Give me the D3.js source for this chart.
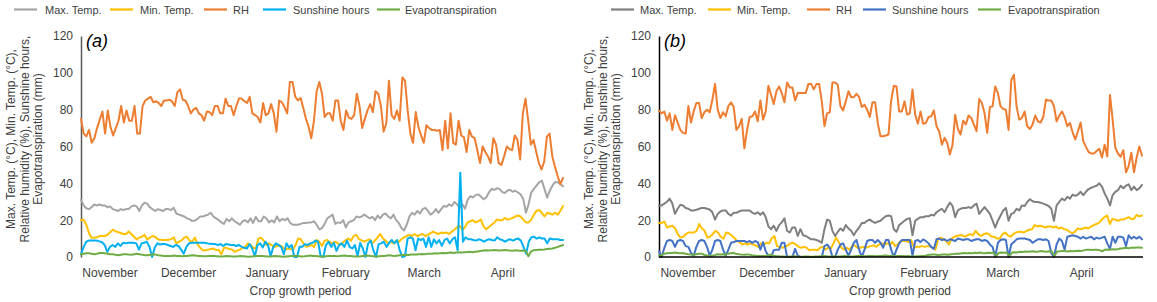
<!DOCTYPE html>
<html><head><meta charset="utf-8">
<script src="https://cdn.jsdelivr.net/npm/d3@7"></script>
<style>
body{margin:0;background:#fff}
svg{display:block}
text{font-family:"Liberation Sans",Arial,sans-serif}
</style>
</head><body>
<svg id="c" width="1157" height="302"></svg>
<script>
// ---------- DATA ----------
const months = ["November","December","January","February","March","April"];
const seriesNames = ["Max. Temp.","Min. Temp.","RH","Sunshine hours","Evapotranspiration"];
const yTicks = [0,20,40,60,80,100,120];
const panelLabels = ["(a)","(b)"];
const xTitle = "Crop growth period";
const yTitleLines = ["Max. Temp. (°C), Min. Temp. (°C),","Relative humidity (%), Sunshine hours,","Evapotranspiration (mm)"];

// Panel (a)
const maxTempA = [31,28,26.5,26,27,28.5,28,28.5,28,28,
27,27.5,26,25.5,25,26,25.5,26,26,27.5,
28,27.5,25,28,29.5,29,27,26,25,26,
25.5,25,26,26,25.5,26.7,23.6,23,22.5,22,
21,20.5,19.5,19.8,20.7,22,22,22.5,23,24,
22,21,20,18.8,18,
20.7,19.4,21,19.4,18.5,17.5,19.4,20,18.8,21,
18.5,21.8,19.4,19.4,22,21,18.8,20,18.8,22,
19.4,20.7,20,21,18.5,17.5,17.5,17.5,18,18.5,
18.5,18.8,18.8,19.4,17.5,15,15.7,18,21,22,
23,18,18.8,18.5,20,16,18.8,19.4,20,22,
21.5,22,23,22,21,21.8,20,22.5,21,23,
23.6,22,21,23,20,18.5,15.7,14.4,17.5,22,
24,23,25,23.6,26,26.7,25,23,24,26,
24,26,27.7,27.3,28.6,27.7,29.9,28.6,26.7,28.6,
26.2,31,33,32.3,33.6,34,32.8,31.4,32.3,35,
37,36.5,37.3,37,35.4,34.7,36,36.5,35.4,36,
35,34,31.4,24,28.6,35,37,38.7,40.6,41.5,
37,32.3,36,38.7,40.6,40.6,39.7,38.4];

const minTempA = [20,20.3,17.5,13,10.5,10.5,10.7,11.4,11.4,11.4,
12,13.5,14.8,14,13.5,13,12.5,12.5,13.8,12.5,
11,9.6,10.5,11,12,9.5,10.5,11.4,11,9.6,
9.4,9.2,9.2,9.4,9.6,10.7,7.4,8.3,9,10.5,
11,8.9,8.3,10.5,7,5,3.7,3.7,4,4.3,
4.6,3.7,4,1.5,5,5,4.3,4,2.8,3.5,
4,5,5.5,7.4,6.5,5,4.6,10,10.5,8.9,
6.5,7.4,6.5,5.5,6,6.5,5.5,4,4.6,4.3,
4,6.5,10,9.6,7.4,5.5,6,6.5,5.5,9.2,
8.3,6,8.9,9.2,8,7.4,8.3,7.4,6.5,8,
9.2,10,8.9,11.5,12,
9.6,9,8.3,9,9.6,7.4,8.9,10.7,12.5,10,
8.9,7.4,8.3,7.4,8.9,8.3,9.6,10.7,11.4,12,
11.4,12.5,11.4,12,12.5,11.4,12,13,13.8,13,
12.5,13.3,13,13.3,12.5,13.8,14.8,16.2,17,14.8,
16.2,18.8,19.4,20,18.8,19.4,20.3,16.6,15.1,16.2,
17.5,18.5,20.3,20,20,21.2,20.3,20.7,21.2,22,
22.5,22,20.3,18.8,18.8,20.3,23,25,25.5,24,
22,24,23.6,23,24,23,25,27.7];

const rhA = [75,67,65.5,69,62,64.5,70,74.6,79,67,
79.6,70.7,66,70,74,82,73,79.6,74,74,
82,67,67,82,85,86,87,84,84.6,83.6,
82,85,85,85.4,84.5,82,89.5,91,85.4,85,
82,78,80,81,78,77,74,79,78.7,77,
82,82,78,78,86,82,82,77,82,86,
86,84.6,83.6,87,78,77,76,73,83.6,77,
78,83,78,68,85,84,81.4,78,95,95,
87,85,86.4,81,75,70.7,64.5,74,90,95,
88.6,76,78,78,74,85,85,74,69,79.6,
75.7,75,77,
88.6,82,70,75,79.6,83,78.7,90,88.6,82,
68,72.5,95.7,77,75,79.6,74,97.5,95.7,79.6,
67,62,78.7,70.7,66,62,71.6,70,69,69,
68.6,69,58,74,59,78,62,61,74,66,
65,57,69,65.4,64.5,58,51,60,57,54.6,
51,64.5,61,51,50,54.6,60,58.6,58,66,
63.6,53,78,86,74,61,63.6,57,51,47.5,
52,65.4,67,54.6,49,44,39.5,43];

const sunA = [1.5,5.5,8.3,8.9,8.9,8.9,8.9,8.5,8,6.5,
2.8,5.5,6.5,5.5,7.4,6,7.7,7.4,7.7,7.7,
7.7,7.4,4,7.4,7.7,8.3,5.5,0,5.2,7.4,
6.8,7,7,6.5,6,5.5,6.5,6,4,1.8,
5.5,7.4,7.7,7.7,7.7,7.7,7.7,7.7,7.4,7.2,
7,7,6.5,7,6,7,6.8,6.5,6.5,6,
6.5,5.5,5,4.6,7,4.6,0.4,6.5,7.4,5.2,
8.3,6.5,0.4,5.5,7.4,6.5,5.5,1.5,7.4,5.2,
6.5,0,0,5.5,5.5,7,6.5,7.4,7.7,8.9,
8.3,0.4,0,6.5,8.3,5.5,7.7,3.3,6.5,7.4,
5.5,8.9,5.5,4.6,6.5,
0.4,7.7,4.6,0,7.4,8.9,3.7,0,7,7.4,
8.3,5.5,7.7,9.2,7.4,9.2,3.7,0,0.4,10,
10.7,10,3.7,10,9.2,10,5.5,10.7,5.5,9.6,
7.4,9.2,6,9.2,10,7.4,9.6,10.7,3.7,45.8,
8.3,10.7,9.6,9.6,9.2,8.9,9.6,9.2,8.3,9.2,
9.6,9.2,8.9,10.7,9.6,9.2,8.3,9.2,9.6,8.9,
9.6,10,8.9,5.5,1.8,8.3,10.7,11,10,10.7,
10,10,7.4,10,9.6,9.6,9.6,9.2,9.2];

const evapA = [1.5,1.8,2,2,1.8,1.5,1.8,2.2,2.2,2,
1.8,1.5,1.5,1.2,1,1.2,1.5,1.5,1.3,1.2,
1.5,1.8,1.5,1.2,1,1,1.2,1.5,1.3,1,
0.8,0.6,0.5,0.5,0.6,0.8,0.6,0.5,0.4,0.5,
0.6,0.8,1,0.8,0.6,0.5,0.4,0.4,0.5,0.6,
0.5,0.4,0.3,0.3,0.4,0.5,0.4,0.3,0.3,0.4,
0.5,0.4,0.3,0.2,0.3,0.4,0.5,0.6,0.5,0.4,
0.3,0.3,0.4,0.5,0.4,0.3,0.2,0.3,0.4,0.5,
0.6,0.5,0.4,0.3,0.4,0.6,0.8,0.6,0.5,0.4,
0.3,0.3,0.4,0.5,0.6,0.5,0.4,0.5,0.7,0.8,
0.6,0.5,0.4,0.3,0.3,0.4,0.6,0.8,0.7,0.5,
0.4,0.3,0.4,0.5,0.6,0.8,0.9,0.7,0.6,0.8,
1,1.1,1.2,1.1,1.3,1.4,1.3,1.5,1.6,1.5,1.7,1.8,
1.8,2,1.9,2.1,2.2,2,2.3,2.4,2.2,2.5,2.6,2.4,2.6,2.7,2.8,2.6,2.8,3,
3.2,3.5,3.7,3.5,3.6,3.8,3.7,3.5,3.6,3.8,3.7,3.5,3.4,3.6,3.5,3.4,3.5,3.3,
0.4,
3,3.7,3.8,3.9,4,4.1,4.3,4.5,4.6,5,5.5,6,6.5];

// Panel (b)
const maxTempB = [28,28,29,30,31.7,29,23.4,26.2,28.4,28,
26.6,26.2,25.3,25.3,25.6,26.2,26.6,26.6,26.2,25.8,
24.3,20.3,23.4,24.7,25.3,25.3,23.4,22.5,24,24,
24.7,25.3,25.3,25.3,25.3,24,23.4,24.3,22.9,24.3,
21.6,16.6,15.1,17,14.2,17.3,18.8,21,14.2,13.3,
16,16,11.4,15.1,11.8,11.4,10.5,9.6,9.6,9.2,
8.7,7.7,15.1,20.3,19.7,14.2,11.4,13.7,15.5,14.2,
17.3,15.5,14.2,11.8,14.2,16,18.5,18.5,19.7,20.3,
19.2,18.5,19.2,19.7,21,22.1,22.5,22.1,15.1,13.7,
17.3,18.5,19.7,20.7,21,
11.8,19.7,20.7,21.6,21.6,22.1,22.1,22.9,22.5,
24.3,25.3,26.2,24.3,27.1,29.5,27.7,21.6,25.3,26.2,
26.6,26.6,27.1,26.6,28,29,23.4,25.3,27.1,25.3,
23.4,19.7,16,19.7,22.5,25.3,26.6,19.7,23.4,24,
26.2,25.3,28,27.7,29.9,31.4,30.3,29.9,29.9,29.5,
29,28.4,27.7,26.2,19.7,28,29.9,31.7,30.8,32.7,
31.7,33.9,33.2,33.9,35.4,33.6,35.4,36.9,37.6,38.2,
38.7,40,38.2,34.5,31.7,28,33.6,35.4,36.3,38.7,
37.3,38.7,39.5,36.3,38.2,36.3,37.3,39.1];

const minTempB = [18.5,18.5,19.2,16,16.6,17,15.5,12.4,10.5,11,
12.4,13.3,13.3,13.3,14.2,17.9,15.5,14.2,10.5,11,
12.4,14.2,13.3,11,10,13.3,12.9,11.8,10.5,8.7,
8.1,6.8,7.4,6.8,7.4,6.8,6.3,5.5,7.4,6.8,
7.7,7.4,10,11.4,5.9,5.5,5,5.5,6.3,7.4,
7.7,6.8,5.5,5,5.5,5,3.7,4,4,3.7,
5,5.5,4,5,4.4,7.4,10.5,8.1,5,4,
5,4,5.9,6.3,5,5,5.5,5,5.5,5.9,
6.3,5.5,6.8,7.4,6.8,7.4,6.8,8.1,5.9,6.8,
8.7,8.7,8.7,8.1,9.2,
5,5.5,5.5,5.9,5.5,5.9,5.9,5,4,
9.6,10.5,9.6,8.7,6.8,10,11,11.4,11.8,11.8,
11,11.8,12.4,11.8,14.2,12.4,11.4,12.4,12.9,12.4,
11,11,10,10,12.4,13.3,11.8,11,12.4,13.3,
13.7,13.7,13.3,14.2,14.8,15.1,17.3,16.6,17,16.6,
16,16.6,16.6,16,16.6,15.5,16,15.1,14.8,13.7,
12.9,13.7,15.5,15.1,15.5,16,15.5,16.6,17.3,17.9,
18.5,20.3,21.6,22.5,17.9,20.7,20.3,19.7,20.3,20.3,
21,21.6,20.7,20.7,22.9,22.1,22.5];

const rhB = [79.5,78,79,74,78,69,77,73,69,67.4,
67,82,73,79,83.6,83.6,75.5,78.6,80,78.6,
85.4,94,80,75.5,78.6,76.4,82,84,81.4,69,
71,75,59,69,76,76.4,79,73.7,85,74.6,
79,93,88,83,90,92.6,89,84,94.8,92,
92,85,89,89,89,89,94,94,91,94,
94,84.5,71,78,78.6,94.8,94.8,93.5,81.8,79.6,
84.5,90,86.8,86.8,88.6,86.8,81.4,82.7,80,76,
84,84,72.4,65.6,65.6,66,66.5,85,93,92.6,
79,79,84.5,77.3,78,
91,77.3,72.4,79,72.4,72.8,76,76.4,79.6,
71,68.3,61,64.7,62,55.7,61,77.3,69.5,66.5,
74,72,76.8,75.5,72,68.3,85.8,83.6,78,67.4,
81.4,81.8,92.6,89,81.8,80.4,80,69,96,99,
81.8,74.6,75.5,79,71,69.5,72,76.8,73.7,73,
76,85.4,85,85,82,73.7,76.8,79,76,71,
72.8,67.7,63.8,68.3,73,62.9,59.8,57,56.2,56.2,
57.5,58.7,54,61,54.6,88,74.6,59.3,56.2,54.4,
58,46,49.4,56.6,46,54,60,55];

const sunB = [3.1,0,5,8.7,9.2,8.7,5.5,8.7,9.2,8.7,
5.9,5.5,2.2,0.7,5.5,8.7,9.2,8.7,5.5,0.7,
4,8.7,9.2,8.7,4,0.7,4,7.7,8.1,8.7,
8.7,8.7,8.7,8.1,8.7,7.7,8.7,8.1,4,8.1,
3.1,0.7,0,3.7,4,4,7.7,7.7,0,0,
0,4.4,0.7,0,0,0,0,0,0,0,
0,0,5.9,6.8,5,0,0,4,6.8,7.4,
4,0.7,4,7.7,9.2,4,0,4,8.7,9.2,
9.2,7.7,9.2,7.7,5,9.2,9.2,4,0,4,
7.4,9.2,9.2,9.2,9.2,
0.7,8.7,9.2,8.1,9.6,8.7,7.4,5.5,4.4,
9.6,10,9.2,9.6,8.7,9.6,9.2,8.7,10,9.6,
9.2,9.6,9.6,8.7,9.2,9.6,9.6,8.7,9.2,8.7,
6.8,5.5,0,7.7,9.2,9.6,9.2,0,6.8,8.1,
9.6,10,10,10,9.6,9.2,7.7,8.7,9.6,9.6,
9.2,9.6,8.7,2.2,0,6.8,10,8.7,4,11,
11.4,11.8,11.4,11,10,11,10,10.5,11,9.6,
10.5,10,10.5,11,7.4,4.4,11,7.7,11,11,
10.5,5.9,11.8,10,11,10,11,9.6];

const evapB = [0.7,1,1.8,2,2.2,2.2,2.4,2.2,2,2.2,
1.8,1.5,1.3,1.2,1.5,1.8,1.8,1.2,0.8,0.7,
0.7,1,1.5,1.3,1.5,1.2,1.8,2,2.2,1.8,
1.5,1.3,1.2,1.3,1.3,1,0.8,0.6,0.5,0.6,
0.5,0.8,1.2,0.8,0.5,0.4,0.3,0.3,0.2,0.3,
0.3,0.4,0.3,0.2,0.2,0.3,0.3,0.2,0.2,0.3,
0.3,0.4,0.5,0.4,0.3,0.3,0.4,0.3,0.3,0.4,
0.5,0.4,0.3,0.3,0.4,0.5,0.6,0.5,0.4,0.5,
0.6,0.5,0.4,0.5,0.6,0.8,0.7,0.6,0.5,0.4,
0.5,0.6,0.5,0.4,0.5,
0.3,0.3,0.4,0.4,0.5,0.5,1,1.2,1.3,1.3,
1.1,1.2,1.4,1.3,1.2,1.5,1.6,1.8,1.8,2,
2.2,2.1,2.2,2,2.3,2.2,2.4,2.1,2,2.3,
2.2,2.4,0.5,2.2,2.5,2.3,2.4,0.5,2.4,2.6,
2.5,2.8,2.7,3,2.8,3,3.1,2.9,3,3.2,
3,2.9,3.1,3,0.6,3,3.1,3.3,3.2,3,
3.2,3.1,3.3,3.4,3.2,3.6,3.9,4,3.8,4,
3.9,3.7,3.1,4,4.1,4,4.2,4.1,4.3,4.6,
4.8,5,4.8,5.1,5,5.2,5.1,5];

const colorsA = ["#A5A5A5","#FFC000","#ED7D31","#00B0F0","#70AD47"];
const colorsB = ["#7F7F7F","#FFC000","#ED7D31","#4472C4","#70AD47"];

// ---------- DRAW ----------
const svg = d3.select("#c");
const nDays = 182;
const y = d3.scaleLinear().domain([0,120]).range([257,36]);

const panels = [
  {x0:81, x1:563, series:[maxTempA,minTempA,rhA,sunA,evapA], colors:colorsA, axisColor:"#595959", xAxis:false,
   label:panelLabels[0], titleX:[10.5,24.5,38], titleCY:139, xTitleX:300.5,
   legendLine:[14,110,204,263,377], legendText:[45,140,233,293,405]},
  {x0:659, x1:1142, series:[maxTempB,minTempB,rhB,sunB,evapB], colors:colorsB, axisColor:"#000", xAxis:true,
   label:panelLabels[1], titleX:[588.5,602.5,616], titleCY:139, xTitleX:900,
   legendLine:[611,708,807,863,978], legendText:[640,737,836,892,1008]}
];

panels.forEach(p => {
  const x = d3.scaleLinear().domain([0, nDays-1]).range([p.x0, p.x1]);
  const g = svg.append("g");

  // legend
  seriesNames.forEach((name,k) => {
    g.append("line").attr("x1",p.legendLine[k]).attr("x2",p.legendLine[k]+23)
      .attr("y1",9.5).attr("y2",9.5).attr("stroke",p.colors[k]).attr("stroke-width",2.2);
    g.append("text").attr("x",p.legendText[k]).attr("y",13.5)
      .attr("font-size",11).attr("fill","#404040").text(name);
  });

  // y axis
  const yAxis = d3.axisLeft(y).tickValues(yTicks).tickSize(0).tickSizeOuter(0).tickPadding(8);
  const ga = g.append("g").attr("transform",`translate(${p.x0},0)`).call(yAxis);
  ga.select(".domain").attr("stroke",p.axisColor).attr("stroke-width",1.5);
  ga.selectAll("text").attr("font-size",12).attr("fill","#404040")
    .attr("font-family",'"Liberation Sans",Arial,sans-serif');

  // series lines
  p.series.forEach((vals,k) => {
    const line = d3.line()
      .x((d,i) => x(i*(nDays-1)/(vals.length-1)))
      .y(d => y(d));
    g.append("path").attr("d",line(vals)).attr("fill","none")
      .attr("stroke",p.colors[k]).attr("stroke-width",2)
      .attr("stroke-linejoin","round").attr("stroke-linecap","round");
  });

  // x axis line (panel b)
  if (p.xAxis) {
    g.append("line").attr("x1",p.x0).attr("x2",p.x1+1).attr("y1",y(0)).attr("y2",y(0))
      .attr("stroke","#000").attr("stroke-width",1.3);
  }

  // month labels
  months.forEach((m,k) => {
    g.append("text").attr("x", x(10.9 + 29.5*k)).attr("y",277)
      .attr("text-anchor","middle").attr("font-size",12).attr("fill","#404040").text(m);
  });

  // x title
  g.append("text").attr("x",p.xTitleX).attr("y",295).attr("text-anchor","middle")
    .attr("font-size",12).attr("fill","#404040").text(xTitle);

  // y title
  yTitleLines.forEach((t,k) => {
    g.append("text").attr("transform",`translate(${p.titleX[k]},${p.titleCY}) rotate(-90)`)
      .attr("text-anchor","middle").attr("dy","0.35em")
      .attr("font-size",12).attr("fill","#404040").text(t);
  });

  // panel label
  g.append("text").attr("x",p.x0+5).attr("y",46.5).attr("font-size",18)
    .attr("font-style","italic").attr("fill","#000").text(p.label);
});
</script>
</body></html>
